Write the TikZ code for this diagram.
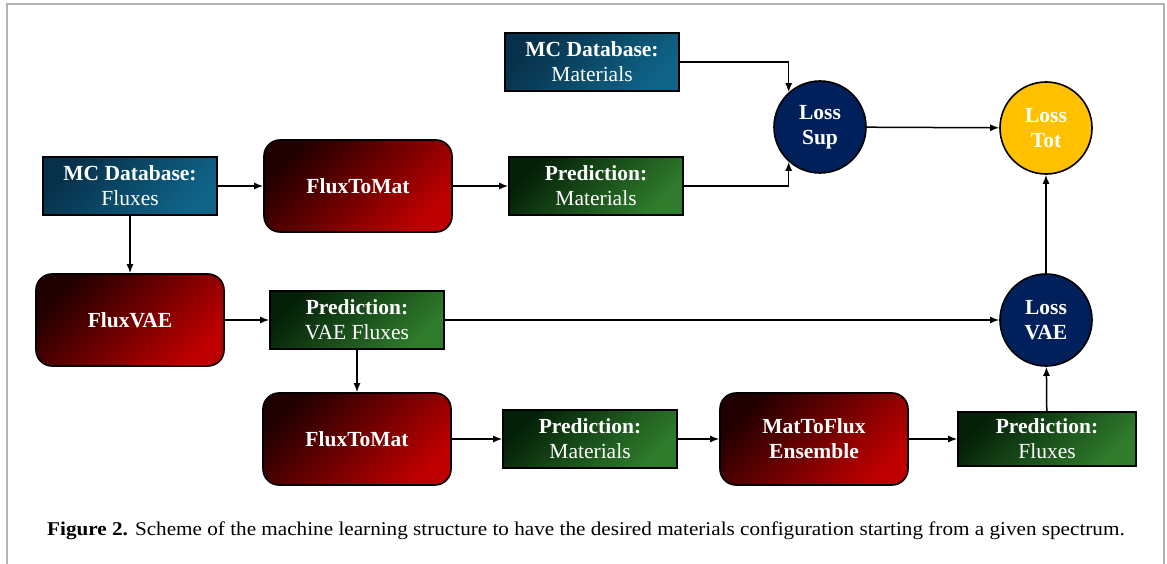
\documentclass[tikz,border=0pt]{standalone}
\usepackage{fontspec}
\setmainfont{Liberation Serif}
\usetikzlibrary{arrows.meta}
\definecolor{bluedark}{HTML}{07304A}
\definecolor{bluemid}{HTML}{0B5273}
\definecolor{bluelight}{HTML}{0F6488}
\definecolor{reddark}{HTML}{200000}
\definecolor{redmid}{HTML}{7A0000}
\definecolor{redlight}{HTML}{BE0000}
\definecolor{greendark}{HTML}{042008}
\definecolor{greenmid}{HTML}{1B6A24}
\definecolor{greenlight}{HTML}{2F7D2C}
\definecolor{navy}{HTML}{00205B}
\definecolor{gold}{HTML}{FFC000}
\definecolor{framegray}{HTML}{B4B4B4}
\tikzset{
  boxtext/.style={text=white, align=center, font=\fontsize{21.5}{25}\selectfont},
  dbbox/.style={boxtext, draw=black, line width=1.6pt, minimum width=174pt, minimum height=58pt, inner sep=0pt,
    top color=bluedark, middle color=bluemid, bottom color=bluelight, shading angle=45},
  predbox/.style={boxtext, draw=black, line width=1.6pt, minimum width=174pt, minimum height=58pt, inner sep=0pt,
    top color=greendark, middle color=greenmid, bottom color=greenlight, shading angle=45},
  netbox/.style={boxtext, draw=black, line width=1.6pt, minimum width=188pt, minimum height=92pt, inner sep=0pt,
    rounded corners=16pt, top color=reddark, middle color=redmid, bottom color=redlight, shading angle=45},
  lossnode/.style={boxtext, circle, draw=black, line width=1.6pt, minimum size=92pt, inner sep=0pt},
  conn/.style={line width=1.5pt, -{Latex[length=9pt,width=7pt]}}
}
\begin{document}
\begin{tikzpicture}[x=1pt,y=-1pt]
\useasboundingbox (0,0) rectangle (1167,564);
% frame
\draw[framegray, line width=1.5pt] (7,564) -- (7,4) -- (1164,4) -- (1164,564);

% nodes
\node[dbbox] (mcm) at (592,62) {\textbf{MC Database:}\\Materials};
\node[dbbox] (mcf) at (130,186) {\textbf{MC Database:}\\Fluxes};
\node[netbox] (ftm1) at (358,186) {\textbf{FluxToMat}};
\node[predbox] (pm1) at (596,186) {\textbf{Prediction:}\\Materials};
\node[lossnode, fill=navy] (sup) at (820,127) {\textbf{Loss}\\\textbf{Sup}};
\node[lossnode, fill=gold] (tot) at (1046,128) {\textbf{Loss}\\\textbf{Tot}};
\node[netbox] (vae) at (130,320) {\textbf{FluxVAE}};
\node[predbox] (pvf) at (357,320) {\textbf{Prediction:}\\VAE Fluxes};
\node[lossnode, fill=navy] (lvae) at (1046,320) {\textbf{Loss}\\\textbf{VAE}};
\node[netbox] (ftm2) at (357,439) {\textbf{FluxToMat}};
\node[predbox] (pm2) at (590,439) {\textbf{Prediction:}\\Materials};
\node[netbox] (m2f) at (814,439) {\textbf{MatToFlux}\\\textbf{Ensemble}};
\node[predbox, minimum width=178pt, minimum height=54pt] (pf) at (1047,439) {\textbf{Prediction:}\\Fluxes};

% connectors
\draw[conn] (mcf) -- (ftm1);
\draw[conn] (ftm1) -- (pm1);
\draw[conn] (pm1.east) -| (sup.228);
\draw[conn] (mcm.east) -| (sup.132);
\draw[conn] (sup) -- (tot);
\draw[conn] (mcf) -- (vae);
\draw[conn] (vae) -- (pvf);
\draw[conn] (pvf) -- (lvae);
\draw[conn] (pvf) -- (ftm2);
\draw[conn] (ftm2) -- (pm2);
\draw[conn] (pm2) -- (m2f);
\draw[conn] (m2f) -- (pf);
\draw[conn] (pf) -- (lvae);
\draw[conn] (lvae) -- (tot);

% caption
\node[anchor=base west, inner sep=0pt, font=\fontsize{19.5}{23}\selectfont] (cap) at (47,535)
  {\scalebox{1.086}[1]{\textbf{Figure 2.} Scheme of the machine learning structure to have the desired materials configuration starting from a given spectrum.}};
\end{tikzpicture}
\end{document}
